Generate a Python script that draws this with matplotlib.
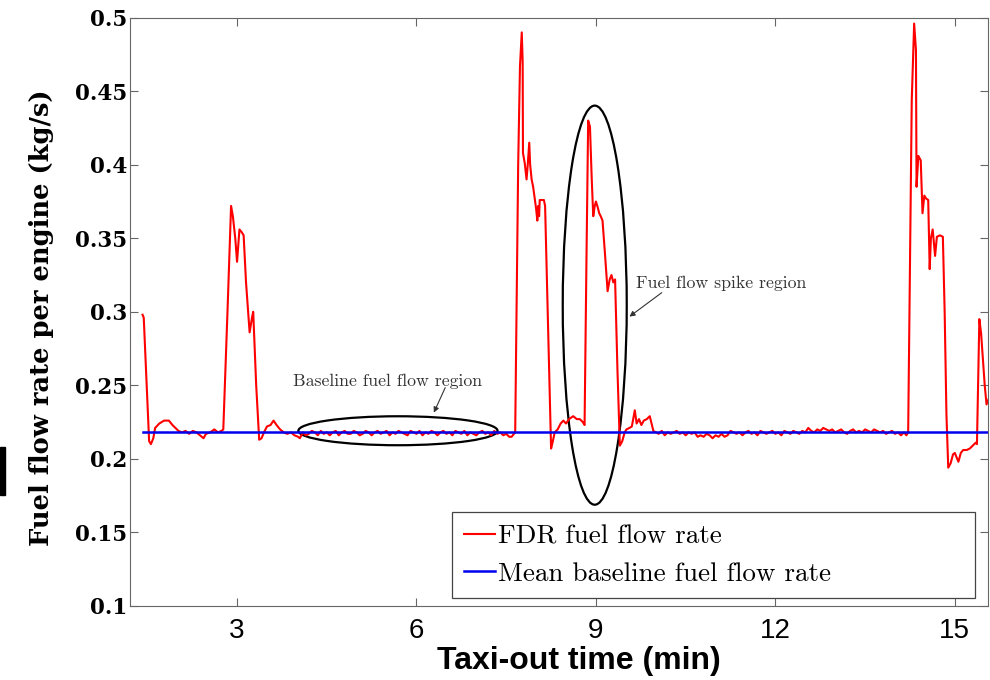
import numpy as np
import matplotlib.pyplot as plt
from matplotlib.patches import Ellipse, Rectangle

# taxi-out time (min) and FDR fuel flow rate (kg/s)
t_start = [1.42, 1.44, 1.53, 1.56, 1.60, 1.63, 1.70, 1.78, 1.86, 1.92, 1.97, 2.02, 2.08, 2.14,
           2.20, 2.26, 2.32, 2.38, 2.44, 2.48, 2.55, 2.62, 2.68, 2.74, 2.77]
f_start = [0.298, 0.296, 0.212, 0.210, 0.214, 0.221, 0.224, 0.226, 0.226, 0.223, 0.221, 0.219, 0.218, 0.219,
           0.217, 0.219, 0.218, 0.216, 0.214, 0.217, 0.218, 0.220, 0.218, 0.219, 0.220]

t_spike1 = [2.84, 2.90, 2.93, 2.97, 3.00, 3.04, 3.08, 3.11, 3.15, 3.21, 3.25, 3.27, 3.32, 3.37, 3.41,
            3.45, 3.50, 3.56, 3.61, 3.66, 3.72, 3.78, 3.84, 3.90, 3.96, 4.02]
f_spike1 = [0.300, 0.372, 0.365, 0.350, 0.334, 0.356, 0.354, 0.352, 0.320, 0.286, 0.296, 0.300, 0.250, 0.213, 0.214,
            0.218, 0.222, 0.223, 0.226, 0.223, 0.220, 0.218, 0.217, 0.218, 0.216, 0.215]

t_base1 = [4.05, 4.10, 4.15, 4.20, 4.25, 4.30, 4.35, 4.40, 4.45, 4.50, 4.55, 4.60, 4.65, 4.70, 4.75,
           4.80, 4.85, 4.90, 4.95, 5.00, 5.05, 5.10, 5.15, 5.20, 5.25, 5.30, 5.35, 5.40, 5.45, 5.50,
           5.55, 5.60, 5.65, 5.70, 5.75, 5.80, 5.85, 5.90, 5.95, 6.00, 6.05, 6.10, 6.15, 6.20, 6.25,
           6.30, 6.35, 6.40, 6.45, 6.50, 6.55, 6.60, 6.65, 6.70, 6.75, 6.80, 6.85, 6.90, 6.95, 7.00,
           7.05, 7.10, 7.15, 7.20, 7.25, 7.30, 7.35, 7.40, 7.45, 7.50, 7.55, 7.59, 7.65]
f_base1 = [0.214, 0.218, 0.216, 0.217, 0.219, 0.218, 0.216, 0.219, 0.217, 0.218, 0.216, 0.218, 0.219, 0.216, 0.218,
           0.219, 0.217, 0.217, 0.219, 0.218, 0.216, 0.217, 0.219, 0.218, 0.216, 0.218, 0.219, 0.217, 0.218, 0.219,
           0.216, 0.218, 0.217, 0.219, 0.218, 0.217, 0.216, 0.219, 0.218, 0.217, 0.219, 0.216, 0.218, 0.217, 0.219,
           0.218, 0.216, 0.218, 0.219, 0.217, 0.218, 0.216, 0.219, 0.218, 0.217, 0.219, 0.216, 0.218, 0.217, 0.216,
           0.218, 0.219, 0.217, 0.218, 0.216, 0.219, 0.217, 0.218, 0.216, 0.217, 0.215, 0.215, 0.218]

t_spike2 = [7.70, 7.73, 7.76, 7.775, 7.78, 7.81, 7.84, 7.86, 7.885, 7.90, 7.925, 7.95, 7.98, 8.00, 8.02,
            8.035, 8.05, 8.06, 8.10, 8.13, 8.15, 8.20, 8.25, 8.28, 8.31, 8.36, 8.41, 8.455, 8.50, 8.55,
            8.62, 8.68, 8.73, 8.78, 8.81]
f_spike2 = [0.400, 0.467, 0.490, 0.470, 0.408, 0.401, 0.390, 0.400, 0.415, 0.400, 0.390, 0.385, 0.376, 0.370, 0.362,
            0.372, 0.365, 0.376, 0.376, 0.376, 0.372, 0.290, 0.207, 0.212, 0.218, 0.220, 0.224, 0.226, 0.224, 0.227,
            0.229, 0.227, 0.227, 0.225, 0.223]

t_spike3 = [8.84, 8.87, 8.90, 8.93, 8.955, 8.98, 9.00, 9.03, 9.055, 9.08, 9.11, 9.15, 9.195, 9.23, 9.26,
            9.29, 9.32, 9.36, 9.40, 9.44, 9.48, 9.51, 9.56, 9.60, 9.65, 9.68, 9.72, 9.76, 9.80, 9.85,
            9.90, 9.96]
f_spike3 = [0.330, 0.430, 0.426, 0.390, 0.365, 0.372, 0.375, 0.371, 0.367, 0.365, 0.362, 0.340, 0.314, 0.322, 0.325,
            0.320, 0.322, 0.260, 0.209, 0.212, 0.218, 0.220, 0.221, 0.222, 0.233, 0.224, 0.227, 0.223, 0.226, 0.227,
            0.229, 0.219]

t_base2 = [10.00, 10.05, 10.10, 10.15, 10.20, 10.25, 10.30, 10.35, 10.40, 10.45, 10.50, 10.55, 10.60, 10.65,
           10.70, 10.75, 10.80, 10.85, 10.90, 10.95, 11.00, 11.05, 11.10, 11.15, 11.20, 11.25, 11.30, 11.35,
           11.40, 11.45, 11.50, 11.55, 11.60, 11.65, 11.70, 11.75, 11.80, 11.85, 11.90, 11.95, 12.00, 12.05,
           12.10, 12.15, 12.20, 12.25, 12.30, 12.35, 12.40, 12.45, 12.50, 12.55, 12.60, 12.65, 12.70, 12.75,
           12.80, 12.85, 12.90, 12.95, 13.00, 13.05, 13.10, 13.15, 13.20, 13.25, 13.30, 13.35, 13.40, 13.45,
           13.50, 13.55, 13.60, 13.65, 13.70, 13.75, 13.80, 13.85, 13.90, 13.95, 14.00, 14.05, 14.10, 14.15,
           14.19, 14.22]
f_base2 = [0.218, 0.217, 0.219, 0.216, 0.218, 0.217, 0.218, 0.219, 0.217, 0.218, 0.216, 0.218, 0.217, 0.218,
           0.215, 0.216, 0.215, 0.217, 0.216, 0.214, 0.216, 0.215, 0.217, 0.215, 0.216, 0.219, 0.218, 0.217,
           0.218, 0.216, 0.218, 0.219, 0.217, 0.218, 0.216, 0.219, 0.218, 0.217, 0.218, 0.219, 0.217, 0.218,
           0.216, 0.219, 0.218, 0.217, 0.219, 0.218, 0.217, 0.219, 0.218, 0.221, 0.219, 0.218, 0.220, 0.219,
           0.221, 0.220, 0.219, 0.220, 0.218, 0.219, 0.220, 0.218, 0.217, 0.219, 0.220, 0.218, 0.219, 0.218,
           0.220, 0.219, 0.218, 0.220, 0.219, 0.218, 0.219, 0.217, 0.218, 0.219, 0.217, 0.218, 0.216, 0.218,
           0.216, 0.218]

t_spike4 = [14.25, 14.28, 14.32, 14.35, 14.36, 14.39, 14.43, 14.46, 14.49, 14.52, 14.555, 14.58, 14.60,
            14.63, 14.67, 14.70, 14.75, 14.80, 14.83, 14.86, 14.89, 14.93, 14.97, 15.00, 15.06, 15.10,
            15.14, 15.20, 15.25, 15.30, 15.35, 15.37, 15.41, 15.44, 15.47, 15.50, 15.53, 15.56, 15.60]
f_spike4 = [0.330, 0.444, 0.496, 0.478, 0.385, 0.406, 0.403, 0.367, 0.379, 0.377, 0.376, 0.329, 0.350,
            0.356, 0.338, 0.351, 0.352, 0.351, 0.300, 0.230, 0.194, 0.197, 0.203, 0.204, 0.198, 0.204,
            0.206, 0.206, 0.207, 0.209, 0.211, 0.210, 0.295, 0.285, 0.267, 0.250, 0.237, 0.240, 0.245]

mean_baseline = 0.218

t = np.array(t_start + t_spike1 + t_base1 + t_spike2 + t_spike3 + t_base2 + t_spike4)
fuel = np.array(f_start + f_spike1 + f_base1 + f_spike2 + f_spike3 + f_base2 + f_spike4)

fig = plt.figure(figsize=(9.9, 6.8), dpi=100)
ax = fig.add_axes([0.1313, 0.109, 0.867, 0.865])

ax.plot(t, fuel, color='red', lw=1.5, label='FDR fuel flow rate')
ax.plot([t[0], 16], [mean_baseline, mean_baseline], color='#0000ee', lw=1.8,
        label='Mean baseline fuel flow rate')

# region ellipses
ax.add_patch(Ellipse((5.69, 0.2191), 3.33, 0.0197, fill=False, ec='black', lw=1.6))
ax.add_patch(Ellipse((8.98, 0.3045), 1.07, 0.2714, fill=False, ec='black', lw=1.6))

arr = dict(arrowstyle='-|>', color='#333333', lw=0.8, mutation_scale=8, shrinkA=0, shrinkB=0)
ax.text(5.52, 0.2525, 'Baseline fuel flow region', ha='center', va='center',
        family='cmr10', fontsize=12.8, color='#333333')
ax.annotate('', xy=(6.29, 0.2314), xytext=(6.48, 0.2484), arrowprops=arr)
ax.text(9.67, 0.3191, 'Fuel flow spike region', ha='left', va='center',
        family='cmr10', fontsize=12.8, color='#333333')
ax.annotate('', xy=(9.56, 0.2967), xytext=(10.10, 0.3130), arrowprops=arr)

ax.set_xlim(1.21, 15.56)
ax.set_ylim(0.1, 0.5)
ax.set_xticks([3, 6, 9, 12, 15])
ax.set_yticks([0.1, 0.15, 0.2, 0.25, 0.3, 0.35, 0.4, 0.45, 0.5])
ax.set_yticklabels(['0.1', '0.15', '0.2', '0.25', '0.3', '0.35', '0.4', '0.45', '0.5'])

for s in ax.spines.values():
    s.set_color('#666666')
ax.tick_params(direction='in', top=True, right=True, length=6, color='#666666')
ax.tick_params(axis='x', pad=9)
ax.tick_params(axis='y', pad=2)
for lab in ax.get_xticklabels():
    lab.set_family('Liberation Sans')
    lab.set_fontsize(20)
for lab in ax.get_yticklabels():
    lab.set_family('DejaVu Serif')
    lab.set_fontweight('bold')
    lab.set_fontsize(15.5)

ax.set_xlabel('Taxi-out time (min)', family='Liberation Sans', fontweight='bold', fontsize=23)
ax.xaxis.set_label_coords(0.523, -0.068)
ax.set_ylabel('Fuel flow rate per engine (kg/s)', family='DejaVu Serif', fontweight='bold', fontsize=18.5)
ax.yaxis.set_label_coords(-0.088, 0.49)

leg = ax.legend(loc='lower left', bbox_to_anchor=(0.3753, 0.0136, 0.6096, 0.0), mode='expand',
                prop={'family': 'cmr10', 'size': 19.5}, fancybox=False, framealpha=1,
                edgecolor='#444444', handlelength=1.15, handletextpad=0.1, borderpad=0.45,
                labelspacing=0.5, borderaxespad=0)
leg.get_frame().set_linewidth(0.9)

# small black mark at the left edge of the original figure
fig.patches.append(Rectangle((0, 1 - 495 / 680), 5 / 990, 48 / 680, color='black',
                             transform=fig.transFigure, figure=fig))

fig.savefig('out.png', dpi=100)
